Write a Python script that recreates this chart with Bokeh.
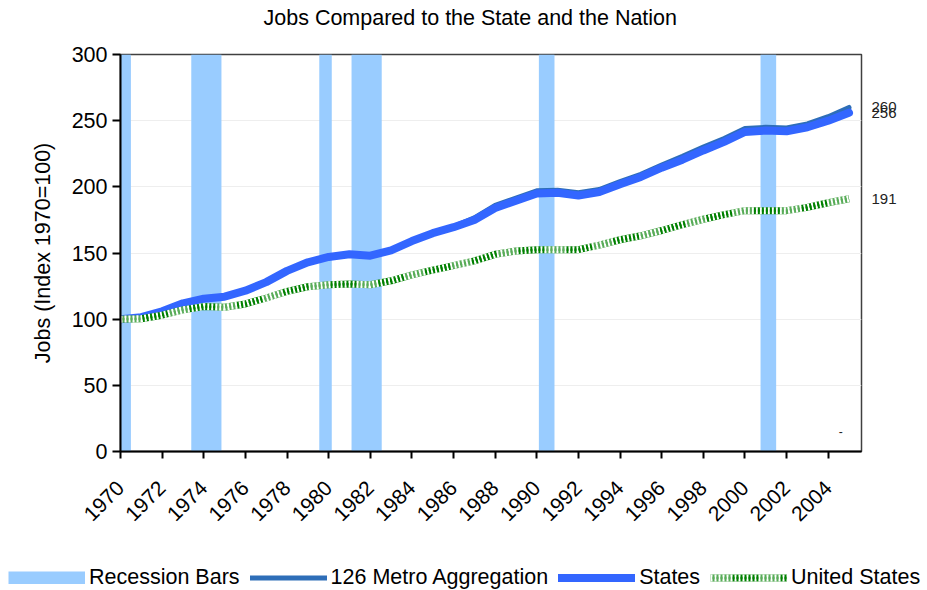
import math
from bokeh.plotting import figure
from bokeh.models import (Range1d, FixedTicker, Legend, LegendItem, Label, LinearAxis)
from bokeh.embed import file_html
from bokeh.resources import INLINE

# ---------------- data ----------------
years = list(range(1970, 2006))

states = [100, 101.5, 106, 112, 115.5, 117, 121.5, 128, 136.5, 143,
          147, 149, 148, 152, 159, 165, 169.5, 175, 184, 189.5,
          195, 195.5, 193.5, 196, 202, 207.5, 214.5, 220.5, 227.5, 234,
          241.5, 242.5, 242, 245, 250, 256]

metro = [100, 101.5, 106, 112, 115.5, 117, 121.5, 128, 136.5, 143,
         147, 149, 148, 152, 159, 165.5, 170, 176.5, 186, 191.5,
         197, 197.5, 195.5, 198, 204, 209.5, 216.5, 223, 230, 236.5,
         244, 245, 244.5, 247.5, 253, 260]

us = [100, 100.3, 103, 107, 109.5, 109, 111.5, 116, 121, 124.5,
      126, 126.5, 126, 129, 133.5, 137, 140.5, 144, 149, 151.5,
      152.5, 152.5, 152.5, 156, 160, 163, 167, 171.5, 175.5, 179,
      182, 182, 182, 184.5, 188, 191]

recession_start = [1970.0, 1973.4, 1979.55, 1981.1, 1990.1, 2000.75]
recession_end = [1970.5, 1974.85, 1980.15, 1982.55, 1990.85, 2001.5]

tick_years = list(range(1970, 2005, 2))
y_ticks = [0, 50, 100, 150, 200, 250, 300]

title_text = "Jobs Compared to the State and the Nation"
y_label = "Jobs (Index 1970=100)"
series_names = ["Recession Bars", "126 Metro Aggregation", "States", "United States"]

FONT = "Liberation Sans"
FS = "21.5px"

# styles
REC_COLOR = "#99ccff"
REC = dict(fill_color=REC_COLOR, line_color=None)
METRO = dict(line_color="#2e6eb8", line_width=5, line_cap="round", line_join="round")
STATES = dict(line_color="#3366ff", line_width=8, line_cap="round", line_join="round")
US_LAYERS = [
    dict(line_color="#008000", line_width=7),
    dict(line_color="white", line_width=7, line_dash="2 2"),
    dict(line_color="#008000", line_width=2.4, line_dash="2 2", line_dash_offset=2),
    dict(line_color="white", line_alpha=0.35, line_width=7, line_dash="22 26"),
]

p = figure(width=927, height=563, output_backend="svg", toolbar_location=None,
           x_range=Range1d(1970, 2005.6), y_range=Range1d(0, 300), title=None,
           min_border_left=120, min_border_right=66, min_border_top=54,
           min_border_bottom=112, background_fill_color="white",
           border_fill_color="white")

# title as a label in the top panel
p.add_layout(Label(x=143, y=37, x_units="screen", y_units="screen",
                   text=title_text, text_font=FONT, text_font_size=FS,
                   text_color="black", text_baseline="middle"), "above")

p.outline_line_color = "#404040"
p.outline_line_width = 1.5

p.xgrid.visible = False
p.ygrid.grid_line_color = "#eeeeee"
p.ygrid.ticker = FixedTicker(ticks=y_ticks)

# recession bars
p.quad(left=recession_start, right=recession_end, bottom=0, top=300, **REC)

# lines
p.line(years, metro, **METRO)
p.line(years, states, **STATES)
for st in US_LAYERS:
    p.line(years, us, **st)

# axes
xa = p.xaxis[0]
xa.ticker = FixedTicker(ticks=tick_years)
xa.major_label_orientation = math.pi / 4
xa.major_label_text_font = FONT
xa.major_label_text_font_size = "21px"
xa.major_label_text_color = "black"
xa.axis_line_width = 2
xa.axis_line_color = "black"
xa.major_tick_line_width = 2
xa.major_tick_line_color = "black"
xa.major_tick_out = 7
xa.major_tick_in = 0
xa.minor_tick_line_color = None
xa.major_label_standoff = 26

ya = p.yaxis[0]
ya.ticker = FixedTicker(ticks=y_ticks)
ya.axis_label = y_label
ya.axis_label_text_font = FONT
ya.axis_label_text_font_size = FS
ya.axis_label_text_font_style = "normal"
ya.axis_label_text_color = "black"
ya.axis_label_standoff = 14
ya.major_label_text_font = FONT
ya.major_label_text_font_size = FS
ya.major_label_text_color = "black"
ya.axis_line_width = 2
ya.axis_line_color = "black"
ya.major_tick_line_width = 2
ya.major_tick_line_color = "black"
ya.major_tick_out = 8
ya.major_tick_in = 0
ya.minor_tick_line_color = None
ya.major_label_standoff = 5

# end-value labels as a right axis
ra = LinearAxis(ticker=FixedTicker(ticks=[metro[-1], states[-1], us[-1]]))
ra.axis_line_color = None
ra.major_tick_line_color = None
ra.minor_tick_line_color = None
ra.major_tick_out = 0
ra.major_tick_in = 0
ra.major_label_standoff = 10
ra.major_label_text_font = FONT
ra.major_label_text_font_size = "15px"
ra.major_label_text_color = "#222222"
p.add_layout(ra, "right")

p.add_layout(Label(x=2004.6, y=15, text="-", text_font=FONT,
                   text_font_size="12px", text_color="#222222",
                   text_baseline="middle", text_align="center"))

# ---------------- legend strip (separate root, no frame alignment) ----------------
lg = figure(width=927, height=27, output_backend="svg", toolbar_location=None,
            x_range=Range1d(0, 1), y_range=Range1d(0, 1),
            x_axis_type=None, y_axis_type=None, title=None,
            min_border=0, min_border_left=0, min_border_right=0,
            min_border_top=0, min_border_bottom=0,
            background_fill_color="white", border_fill_color="white")
lg.outline_line_color = None
lg.grid.visible = False
dx = [5, 6]
dy = [5, 6]
# a thick butt-capped line gives a full-size rectangular swatch
l_rec = lg.line(dx, dy, line_color=REC_COLOR, line_width=13, line_cap="butt")
l_metro = lg.line(dx, dy, **METRO)
l_states = lg.line(dx, dy, **STATES)
l_us = [lg.line(dx, dy, **st) for st in US_LAYERS]

legend = Legend(items=[
    LegendItem(label=series_names[0], renderers=[l_rec]),
    LegendItem(label=series_names[1], renderers=[l_metro]),
    LegendItem(label=series_names[2], renderers=[l_states]),
    LegendItem(label=series_names[3], renderers=l_us),
], orientation="horizontal", location=(8, 0))
legend.label_text_font = FONT
legend.label_text_font_size = FS
legend.label_text_color = "black"
legend.glyph_width = 77
legend.glyph_height = 13
legend.label_standoff = 4
legend.spacing = 10
legend.padding = 0
legend.margin = 0
legend.border_line_color = None
legend.background_fill_alpha = 0
lg.add_layout(legend, "center")

open("out.html", "w").write(file_html([p, lg], INLINE))
